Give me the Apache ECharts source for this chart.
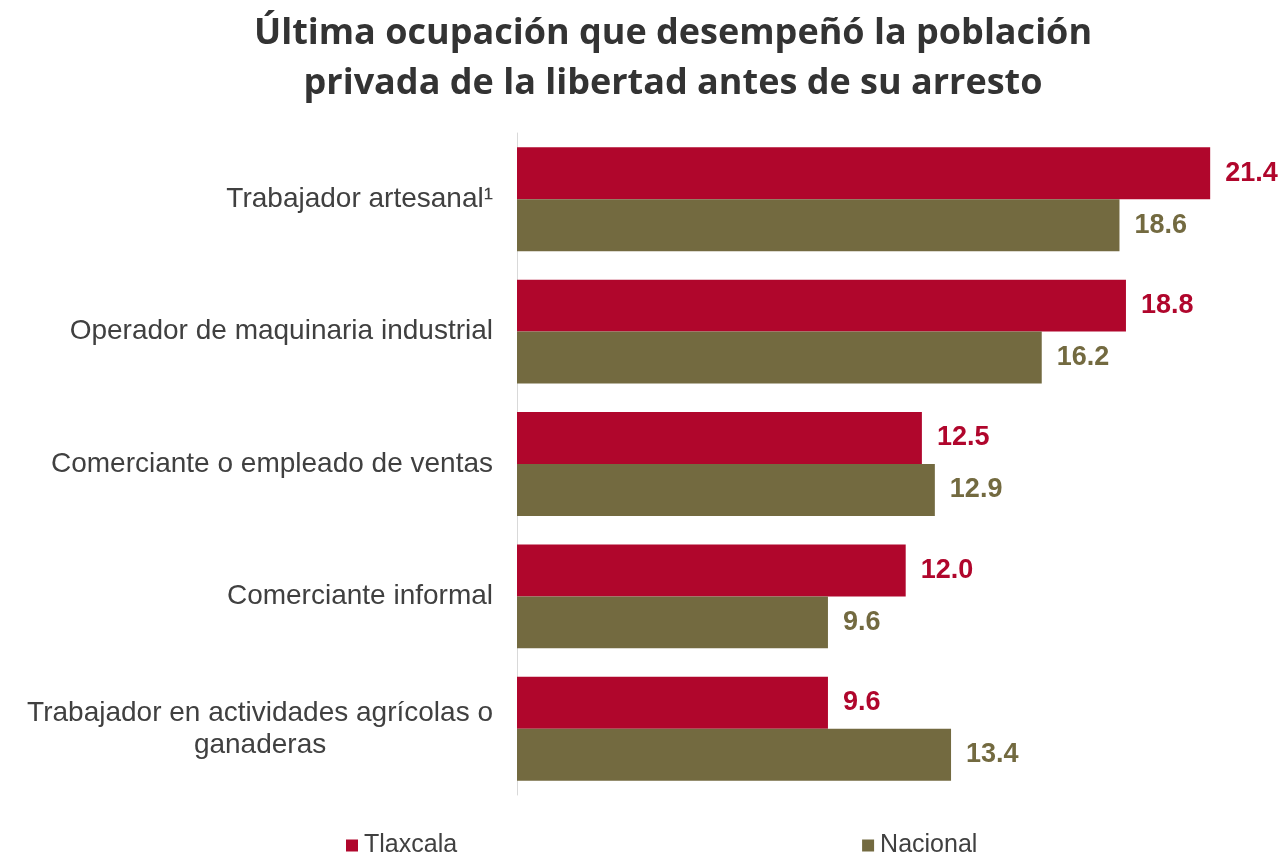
<!DOCTYPE html>
<html>
<head>
<meta charset="utf-8">
<script src="https://cdn.jsdelivr.net/npm/echarts@6/dist/echarts.min.js"></script>
<style>
  html, body { margin: 0; padding: 0; background: #fff; }
  #chart { width: 1286px; height: 856px; }
</style>
</head>
<body>
<div id="chart"></div>
<script>
const categories = [
  'Trabajador artesanal¹',
  'Operador de maquinaria industrial',
  'Comerciante o empleado de ventas',
  'Comerciante informal',
  'Trabajador en actividades agrícolas o\nganaderas'
];
const tlaxcala = [21.4, 18.8, 12.5, 12.0, 9.6];
const nacional = [18.6, 16.2, 12.9, 9.6, 13.4];

const RED = '#B0062C';
const OLIVE = '#736A40';
const labelFont = '"Liberation Sans", Arial, sans-serif';
const catSize = 28;

// measure the longest line so the two-line label can be centred
const ctx = document.createElement('canvas').getContext('2d');
ctx.font = catSize + 'px ' + labelFont;
const longLine = ctx.measureText('Trabajador en actividades agrícolas o').width;

const chart = echarts.init(document.getElementById('chart'));

const option = {
  animation: false,
  title: {
    text: 'Última ocupación que desempeñó la población\nprivada de la libertad antes de su arresto',
    left: 668,
    textAlign: 'center',
    top: 4,
    textStyle: {
      fontFamily: '"Open Sans", sans-serif',
      fontWeight: 'bold',
      fontSize: 36,
      lineHeight: 50,
      color: '#333333'
    }
  },
  legend: {
    data: ['Tlaxcala', 'Nacional'],
    left: 341,
    top: 828,
    itemWidth: 12,
    itemHeight: 12,
    itemGap: 405,
    icon: 'rect',
    textStyle: { fontFamily: labelFont, fontSize: 25, color: '#404040', padding: [0, 0, 0, 1] }
  },
  grid: { left: 517, right: 24, top: 133, bottom: 61, containLabel: false },
  xAxis: {
    type: 'value',
    min: 0,
    max: 23,
    show: false
  },
  yAxis: {
    type: 'category',
    data: categories,
    inverse: true,
    axisLine: { show: true, lineStyle: { color: '#D9D9D9', width: 1 } },
    axisTick: { show: false },
    axisLabel: {
      margin: 24,
      fontFamily: labelFont,
      fontSize: catSize,
      color: '#404040',
      formatter: function (v) {
        if (v.indexOf('\n') < 0) return v;
        return v.split('\n').map(l => '{c|' + l + '}').join('\n');
      },
      rich: {
        c: {
          fontFamily: labelFont,
          fontSize: catSize,
          color: '#404040',
          lineHeight: 32,
          width: longLine,
          align: 'center'
        }
      }
    }
  },
  series: [
    {
      name: 'Tlaxcala',
      type: 'bar',
      data: tlaxcala,
      barGap: '0%',
      barCategoryGap: '21.5%',
      itemStyle: { color: RED },
      label: {
        show: true,
        position: 'right',
        distance: 15,
        formatter: p => p.value.toFixed(1),
        fontFamily: labelFont,
        fontWeight: 'bold',
        fontSize: 27,
        color: RED
      }
    },
    {
      name: 'Nacional',
      type: 'bar',
      data: nacional,
      barGap: '0%',
      barCategoryGap: '21.5%',
      itemStyle: { color: OLIVE },
      label: {
        show: true,
        position: 'right',
        distance: 15,
        formatter: p => p.value.toFixed(1),
        fontFamily: labelFont,
        fontWeight: 'bold',
        fontSize: 27,
        color: OLIVE
      }
    }
  ]
};

chart.setOption(option);
</script>
</body>
</html>
